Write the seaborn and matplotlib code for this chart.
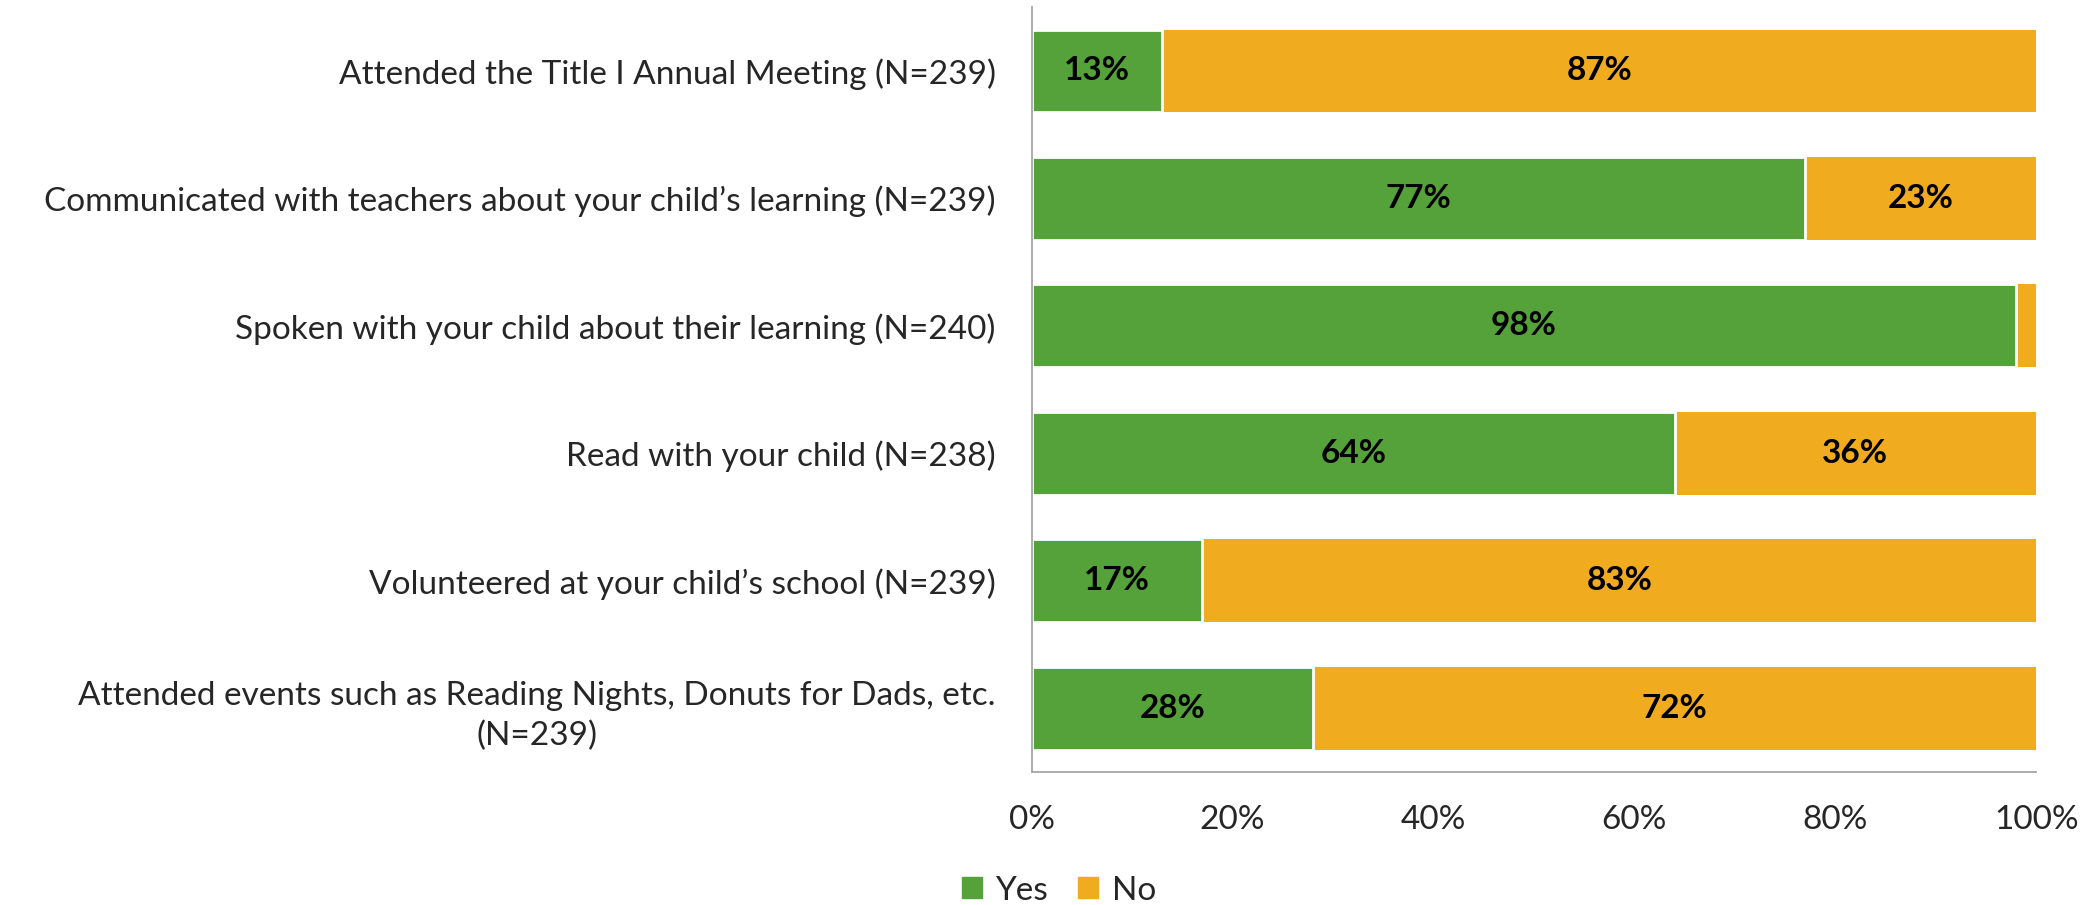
import numpy as np
import pandas as pd
import matplotlib.pyplot as plt
import seaborn as sns
from matplotlib.patches import Patch

# dados
categorias = [
    'Attended the Title I Annual Meeting (N=239)',
    'Communicated with teachers about your child\u2019s learning (N=239)',
    'Spoken with your child about their learning (N=240)',
    'Read with your child (N=238)',
    'Volunteered at your child\u2019s school (N=239)',
    'Attended events such as Reading Nights, Donuts for Dads, etc.\n(N=239)',
]
sim = [13, 77, 98, 64, 17, 28]
nao = [87, 23, 2, 36, 83, 72]
x_ticks = [0, 20, 40, 60, 80, 100]

VERDE = '#55A13A'
LARANJA = '#F0AB1E'
CINZA = '#A6A6A6'
FS = 24

df = pd.DataFrame({'categoria': categorias, 'sim': sim, 'nao': nao})
df['total'] = df['sim'] + df['nao']

sns.set_style('white')
plt.rcParams['font.family'] = ['Lato', 'DejaVu Sans']

fig, ax = plt.subplots(figsize=(20.97, 9.05), dpi=100)
fig.subplots_adjust(left=0.492, right=0.971, top=0.992, bottom=0.147)

# barra total (laranja) e por cima a parte "Yes" (verde)
sns.barplot(data=df, y='categoria', x='total', color=LARANJA, orient='h',
            width=0.65, saturation=1, ax=ax, linewidth=0)
sns.barplot(data=df, y='categoria', x='sim', color=VERDE, orient='h',
            width=0.65, saturation=1, ax=ax, edgecolor='white', linewidth=2)

# rótulos dos valores
for i, row in df.iterrows():
    ax.text(row['sim'] / 2, i, f"{row['sim']}%", ha='center', va='center',
            fontsize=FS, fontweight='bold', color='black')
    if row['nao'] >= 5:
        ax.text(row['sim'] + row['nao'] / 2, i, f"{row['nao']}%", ha='center',
                va='center', fontsize=FS, fontweight='bold', color='black')

ax.set_xlim(0, 100)
ax.set_ylim(5.5, -0.5)
ax.set_xticks(x_ticks)
ax.set_xticklabels([f'{t}%' for t in x_ticks], fontsize=FS)
ax.set_xlabel('')
ax.set_ylabel('')

ax.set_yticks(range(len(categorias)))
ax.set_yticklabels(categorias, fontsize=FS, multialignment='center', linespacing=1.4)
ax.set_yticks(np.arange(-0.5, len(categorias), 1), minor=True)
ax.tick_params(axis='y', which='major', length=0, pad=26)
ax.tick_params(axis='y', which='minor', length=7, width=1.3, color=CINZA, direction='out')
ax.tick_params(axis='x', which='major', length=7, width=1.3, color=CINZA, direction='out', pad=17)

for lado in ['top', 'right']:
    ax.spines[lado].set_visible(False)
for lado in ['left', 'bottom']:
    ax.spines[lado].set_color(CINZA)
    ax.spines[lado].set_linewidth(1.3)

handles = [Patch(color=VERDE, label='Yes'), Patch(color=LARANJA, label='No')]
fig.legend(handles=handles, loc='center', bbox_to_anchor=(0.505, 0.016), ncol=2,
           frameon=False, fontsize=FS, handlelength=0.6, handleheight=0.6,
           handletextpad=0.4, columnspacing=0.9)

plt.savefig('out.png', dpi=100)
